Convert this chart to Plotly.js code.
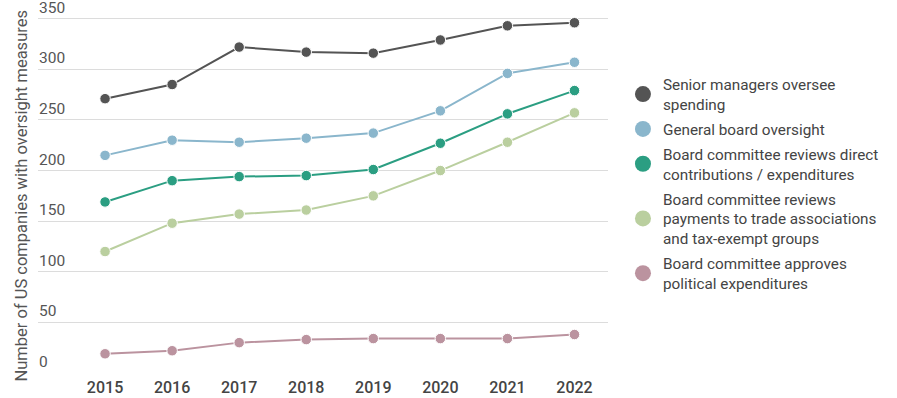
<!DOCTYPE html>
<html>
<head>
<meta charset="utf-8">
<script src="https://cdn.plot.ly/plotly-3.0.1.min.js"></script>
<style>html,body{margin:0;padding:0;background:#fff;}#chart{width:897px;height:398px;}</style>
</head>
<body>
<div id="chart"></div>
<script>
const years = [2015, 2016, 2017, 2018, 2019, 2020, 2021, 2022];
const seriesNames = [
  "Senior managers oversee<br>spending",
  "General board oversight",
  "Board committee reviews direct<br>contributions / expenditures",
  "Board committee reviews<br>payments to trade associations<br>and tax-exempt groups",
  "Board committee approves<br>political expenditures"
];
const seniorManagers = [271, 285, 322, 317, 316, 329, 343, 346];
const generalBoard = [215, 230, 228, 232, 237, 259, 296, 307];
const directContrib = [169, 190, 194, 195, 201, 227, 256, 279];
const tradeAssoc = [120, 148, 157, 161, 175, 200, 228, 257];
const politicalExp = [19, 22, 30, 33, 34, 34, 34, 38];
const colors = ["#545454", "#8ab6cc", "#2b9e82", "#bacf9f", "#bb939f"];
const yTicks = [0, 50, 100, 150, 200, 250, 300, 350];
const yTitle = "Number of US companies with oversight measures";

const allSeries = [seniorManagers, generalBoard, directContrib, tradeAssoc, politicalExp];
const traces = [];
allSeries.forEach((vals, i) => {
  traces.push({
    x: years, y: vals, type: "scatter", mode: "lines+markers",
    line: {color: colors[i], width: 2},
    marker: {color: colors[i], size: 10.5, line: {color: "#fff", width: 1}},
    showlegend: false, hoverinfo: "x+y", cliponaxis: false
  });
});
allSeries.forEach((vals, i) => {
  traces.push({
    x: [null], y: [null], type: "scatter", mode: "markers",
    name: seriesNames[i], legendgroup: "g" + i,
    marker: {color: colors[i], size: 18},
    showlegend: true
  });
});

const annotations = yTicks.map(v => ({
  xref: "paper", yref: "y", x: 0, y: v, xanchor: "left", yanchor: "bottom",
  text: String(v), showarrow: false, borderpad: 0, yshift: 1,
  font: {size: 15.5, color: "#555"}
}));
annotations.push({
  xref: "paper", yref: "paper", x: 0, y: 0.477, xanchor: "center", yanchor: "middle",
  xshift: -16, textangle: -90, text: yTitle, showarrow: false,
  font: {size: 16.5, color: "#555"}
});

const layout = {
  width: 897, height: 398,
  margin: {l: 38, r: 289, t: 1, b: 25},
  paper_bgcolor: "#fff", plot_bgcolor: "#fff",
  font: {family: "Roboto, sans-serif", color: "#444", size: 15},
  xaxis: {
    range: [2014, 2022.5], tickvals: years, ticktext: years.map(String),
    showgrid: false, zeroline: false, showline: false, ticks: "",
    tickfont: {size: 16, color: "#444", weight: 500}, ticklabelstandoff: 3,
    fixedrange: true
  },
  yaxis: {
    range: [0, 367.5], tickvals: yTicks, showticklabels: false,
    showgrid: true, gridcolor: "#dcdcdc", gridwidth: 1, zeroline: false,
    showline: false, ticks: "", fixedrange: true
  },
  annotations: annotations,
  legend: {
    xref: "container", yref: "container", x: 0.6945, y: 0.83, xanchor: "left", yanchor: "top",
    traceorder: "grouped", tracegroupgap: 2, maxheight: 398,
    font: {size: 15.3, color: "#444"}, itemsizing: "trace", bgcolor: "rgba(0,0,0,0)"
  },
  showlegend: true
};
Plotly.newPlot("chart", traces, layout, {displayModeBar: false, staticPlot: true});
</script>
</body>
</html>
